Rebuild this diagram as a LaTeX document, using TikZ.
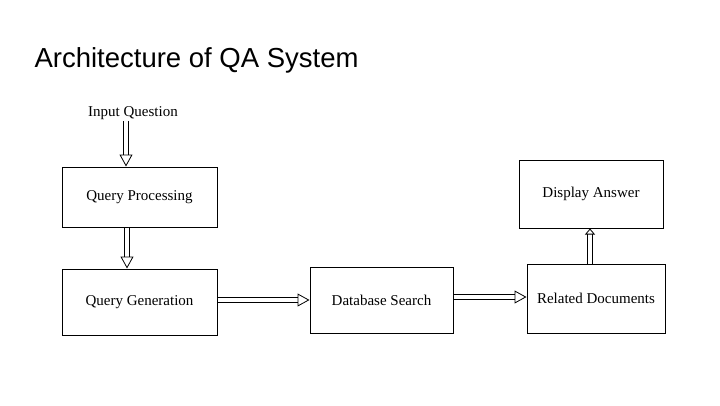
\documentclass[tikz,border=0pt]{standalone}
\usepackage{fontspec}
\setmainfont{Liberation Serif}
\newfontfamily\titlefont{Liberation Sans}
\usetikzlibrary{arrows.meta}
\begin{document}
\begin{tikzpicture}[x=1pt,y=-1pt,
  box/.style={draw,line width=1pt,font=\fontsize{15}{17}\selectfont},
  flow/.style={double,double distance=4pt,line width=0.8pt,-{Triangle[open,length=12pt,width=13pt,line width=0.8pt]}},
  lbl/.style={font=\fontsize{15}{17}\selectfont}]
\useasboundingbox (0,0) rectangle (720,405);
\node[anchor=west,font=\titlefont\fontsize{27.5}{31}\selectfont] (title) at (31,60) {Architecture of QA System};
\node[lbl,inner sep=1pt] (iq) at (133,113) {Input Question};
\node[box,minimum width=155pt,minimum height=60pt] (qp) at (139.5,197) {Query Processing};
\node[box,minimum width=155pt,minimum height=66pt] (qg) at (139.5,302) {Query Generation};
\node[box,minimum width=143pt,minimum height=66pt] (db) at (381.5,300) {Database Search};
\node[box,minimum width=138pt,minimum height=69pt] (rd) at (596,298.5) {Related Documents};
\node[box,minimum width=144pt,minimum height=68pt] (da) at (591,194) {Display Answer};
\draw[flow] ([xshift=-7pt]iq.south) -- ([xshift=-13.5pt]qp.north);
\draw[flow] ([xshift=-12.5pt]qp.south) -- ([xshift=-12.5pt]qg.north);
\draw[flow] ([yshift=2pt]qg.east) -- (db.west);
\draw[flow] ([yshift=3pt]db.east) -- ([yshift=1.5pt]rd.west);
\draw[double,double distance=4pt,line width=0.8pt,-{Triangle[open,length=6pt,width=10pt,line width=0.8pt]}] ([xshift=-6pt]rd.north) -- ([xshift=-1pt]da.south);
\end{tikzpicture}
\end{document}
